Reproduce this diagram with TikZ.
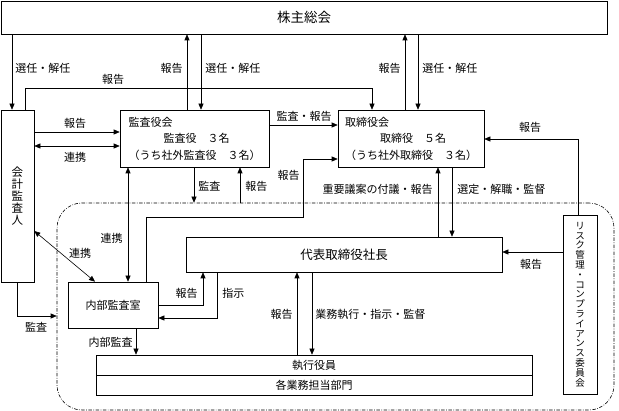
\documentclass[tikz,border=0pt]{standalone}
\usepackage{fontspec}
\setmainfont{Noto Sans CJK JP}
\usetikzlibrary{arrows.meta}

\begin{document}
\begin{tikzpicture}[x=1pt,y=-1pt,line width=0.6pt,
  font=\fontsize{11}{12.5}\selectfont,
  box/.style={draw,rectangle,inner sep=0pt,align=center},
  board/.style={box,align=left,font=\fontsize{11}{16.5}\selectfont},
  arr/.style={-{Triangle[length=6pt,width=5pt]}},
  darr/.style={{Triangle[length=6pt,width=5pt]}-{Triangle[length=6pt,width=5pt]}},
  lbl/.style={inner sep=0pt}]

\useasboundingbox (0,0) rectangle (619,411);

% boxes
\node[box,minimum width=606pt,minimum height=33pt,font=\fontsize{13.5}{15}\selectfont] (soukai) at (304,17.5) {株主総会};
\node[box,minimum width=33pt,minimum height=172pt,font=\fontsize{11.5}{12.2}\selectfont] (kaikei) at (17.5,196) {会\\計\\監\\査\\人};
\node[board,minimum width=149pt,minimum height=57pt] (kansa) at (194.5,138.5) {監査役会\\\hspace*{3.2em}監査役　３名\\（うち社外監査役　３名）};
\node[board,minimum width=146pt,minimum height=57pt] (torishimari) at (411,138.5) {取締役会\\\hspace*{3.2em}取締役　５名\\（うち社外取締役　３名）};
\node[draw,rounded corners=25pt,dash pattern=on 3.5pt off 1.5pt on 0.7pt off 1.5pt,minimum width=557pt,minimum height=207pt] (region) at (335.5,306.5) {};
\node[box,minimum width=316pt,minimum height=35pt,font=\fontsize{12.5}{14}\selectfont] (daihyo) at (344,254.5) {代表取締役社長};
\node[box,minimum width=90pt,minimum height=46pt] (naibu) at (113,305) {内部監査室};
\node[box,minimum width=436pt,minimum height=20pt] (shikko) at (314,365) {執行役員};
\node[box,minimum width=436pt,minimum height=20pt] (bumon) at (314,385) {各業務担当部門};
\node[box,minimum width=34pt,minimum height=179pt,font=\fontsize{9.5}{9.8}\selectfont] (risk) at (580,304.5) {リ\\ス\\ク\\管\\理\\・\\コ\\ン\\プ\\ラ\\イ\\ア\\ン\\ス\\委\\員\\会};

% shareholders
\draw[arr] (12,0 |- soukai.south) -- (12,0 |- kaikei.north) node[lbl,right] at (15,68) {選任・解任};
\draw[arr] (187,0 |- kansa.north) -- (187,0 |- soukai.south) node[lbl,left] at (183,68) {報告};
\draw[arr] (201,0 |- soukai.south) -- (201,0 |- kansa.north) node[lbl,right] at (205,68) {選任・解任};
\draw[arr] (405,0 |- torishimari.north) -- (405,0 |- soukai.south) node[lbl,left] at (401,68) {報告};
\draw[arr] (418,0 |- soukai.south) -- (418,0 |- torishimari.north) node[lbl,right] at (422,68) {選任・解任};

% accounting auditor
\draw[arr] (25,0 |- kaikei.north) -- (25,88) -- (372,88) -- (372,0 |- torishimari.north) node[lbl] at (113,79) {報告};
\draw[arr] (kaikei.east |- 0,132) -- (kansa.west |- 0,132) node[lbl] at (75,123) {報告};
\draw[darr] (kaikei.east |- 0,146) -- (kansa.west |- 0,146) node[lbl] at (75,157) {連携};
\draw[darr] (kaikei.east |- 0,231) -- (95,0 |- naibu.north) node[lbl] at (80,253) {連携};
\draw[arr] (17,0 |- kaikei.south) -- (17,316) -- (region.west |- 0,316) node[lbl] at (36,327) {監査};

% auditors
\draw[arr] (kansa.east |- 0,125) -- (torishimari.west |- 0,125) node[lbl] at (304,116) {監査・報告};
\draw[arr] (194,0 |- kansa.south) -- (194,0 |- region.north) node[lbl,right] at (198,186) {監査};
\draw[arr] (240,0 |- region.north) -- (240,0 |- kansa.south) node[lbl,right] at (245,186) {報告};
\draw[darr] (128,0 |- kansa.south) -- (128,0 |- naibu.north) node[lbl,left] at (123,238) {連携};

% internal audit
\draw[arr] (146,0 |- naibu.north) -- (146,217) -- (303,217) -- (303,159) -- (torishimari.west |- 0,159) node[lbl,left] at (300,175) {報告};
\draw[arr] (naibu.east |- 0,305) -- (203,305) -- (203,0 |- daihyo.south) node[lbl,left] at (198,293) {報告};
\draw[arr] (217,0 |- daihyo.south) -- (217,318) -- (naibu.east |- 0,318) node[lbl,right] at (222,293) {指示};
\draw[arr] (136,0 |- naibu.south) -- (136,0 |- shikko.north) node[lbl,left] at (133,342) {内部監査};

% president
\draw[arr] (297,0 |- shikko.north) -- (297,0 |- daihyo.south) node[lbl,left] at (293,314) {報告};
\draw[arr] (312,0 |- daihyo.south) -- (312,0 |- shikko.north) node[lbl,right] at (315,314) {業務執行・指示・監督};
\draw[arr] (438,0 |- daihyo.north) -- (438,0 |- torishimari.south) node[lbl,left] at (433,189) {重要議案の付議・報告};
\draw[arr] (452,0 |- torishimari.south) -- (452,0 |- daihyo.north) node[lbl,right] at (457,189) {選定・解職・監督};

% risk committee
\draw[arr] (578,0 |- risk.north) -- (578,139) -- (torishimari.east |- 0,139) node[lbl] at (530,127) {報告};
\draw[arr] (risk.west |- 0,252) -- (daihyo.east |- 0,252) node[lbl] at (531,264) {報告};
\end{tikzpicture}
\end{document}
